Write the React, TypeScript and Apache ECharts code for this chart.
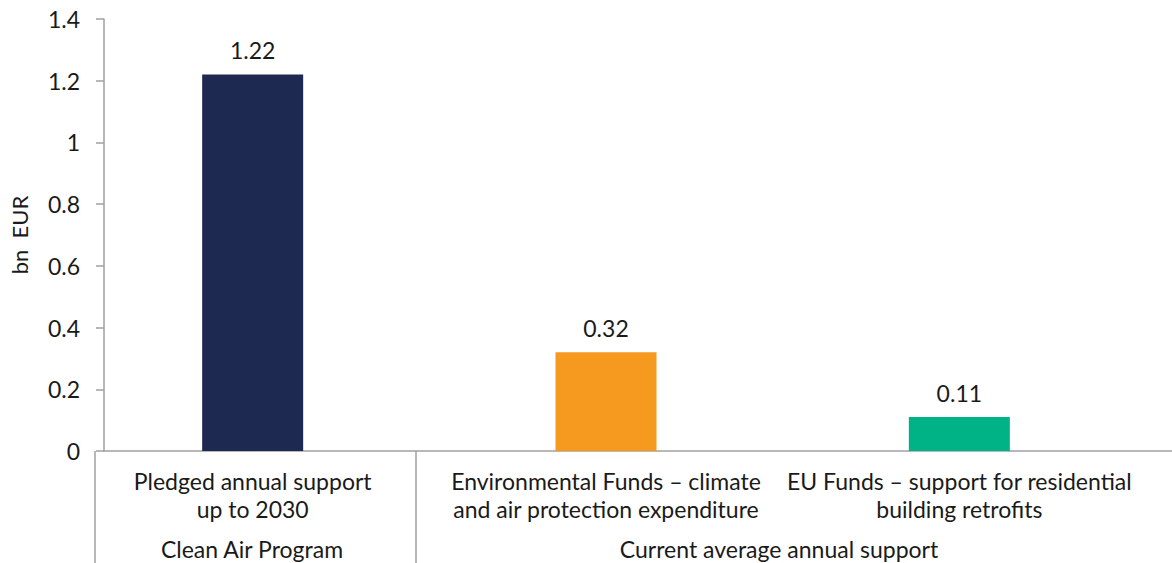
import React, { useEffect, useRef } from "react";
import * as echarts from "echarts";

const categories = [
  "Pledged annual support\nup to 2030",
  "Environmental Funds – climate\nand air protection expenditure",
  "EU Funds – support for residential\nbuilding retrofits",
];
const values = [1.22, 0.32, 0.11];
const barColors = ["#1e2952", "#f6991f", "#00b386"];
const groupLabels = ["Clean Air Program", "Current average annual support"];
const yAxisName = "bn  EUR";

const FONT = "Lato";
const FS = 23;
const TEXT = "#1a1a1a";
const AXIS = "#a0a0a0";

export default function App() {
  const ref = useRef<HTMLDivElement>(null);
  useEffect(() => {
    if (!ref.current) return;
    const chart = echarts.init(ref.current, null, { renderer: "svg" });
    chart.setOption({
      animation: false,
      textStyle: { fontFamily: FONT, color: TEXT },
      grid: [
        { left: 76, right: 36, top: 19, bottom: 112 },
        { left: 95, right: 0, top: 19, bottom: 112 },
      ],
      xAxis: [
        {
          type: "category",
          gridIndex: 0,
          data: categories,
          axisLine: { show: false },
          axisTick: { show: false },
          axisLabel: {
            interval: 0,
            margin: 16,
            fontFamily: FONT,
            fontSize: FS,
            lineHeight: 28,
            color: TEXT,
            align: "center",
          },
        },
        {
          type: "category",
          gridIndex: 1,
          data: [""],
          axisLine: { show: true, lineStyle: { color: AXIS, width: 1.5 } },
          axisTick: { show: false },
          axisLabel: { show: false },
        },
      ],
      yAxis: [
        {
          type: "value",
          gridIndex: 0,
          min: 0,
          max: 1.4,
          interval: 0.2,
          show: false,
          splitLine: { show: false },
        },
        {
          type: "value",
          gridIndex: 1,
          min: 0,
          max: 1.4,
          interval: 0.2,
          name: yAxisName,
          nameLocation: "middle",
          nameRotate: 90,
          nameGap: 74,
          nameTextStyle: { fontFamily: FONT, fontSize: 22, color: TEXT },
          axisLine: { show: true, lineStyle: { color: AXIS, width: 1.5 } },
          axisTick: { show: true, length: 8, lineStyle: { color: AXIS, width: 1.5 } },
          axisLabel: { margin: 24, fontFamily: FONT, fontSize: FS, color: TEXT },
          splitLine: { show: false },
        },
      ],
      series: [
        {
          type: "bar",
          xAxisIndex: 0,
          yAxisIndex: 0,
          barWidth: 101,
          z: 3,
          data: values.map((v, i) => ({ value: v, itemStyle: { color: barColors[i] } })),
          label: {
            show: true,
            position: "top",
            distance: 13,
            fontFamily: FONT,
            fontSize: FS,
            color: TEXT,
            formatter: (p: any) => p.value.toFixed(2),
          },
        },
      ],
      graphic: [
        {
          type: "line",
          shape: { x1: 95, y1: 451, x2: 95, y2: 563 },
          style: { stroke: AXIS, lineWidth: 1.5 },
        },
        {
          type: "line",
          shape: { x1: 416, y1: 451, x2: 416, y2: 563 },
          style: { stroke: AXIS, lineWidth: 1.5 },
        },
        {
          type: "text",
          x: 252,
          y: 549,
          style: {
            text: groupLabels[0],
            fontFamily: FONT,
            fontSize: FS,
            fill: TEXT,
            align: "center",
            verticalAlign: "middle",
          },
        },
        {
          type: "text",
          x: 779,
          y: 549,
          style: {
            text: groupLabels[1],
            fontFamily: FONT,
            fontSize: FS,
            fill: TEXT,
            align: "center",
            verticalAlign: "middle",
          },
        },
      ],
    });
    return () => chart.dispose();
  }, []);
  return (
    <div
      ref={ref}
      style={{ position: "absolute", left: 0, top: 0, width: 1172, height: 563, background: "#fff" }}
    />
  );
}
